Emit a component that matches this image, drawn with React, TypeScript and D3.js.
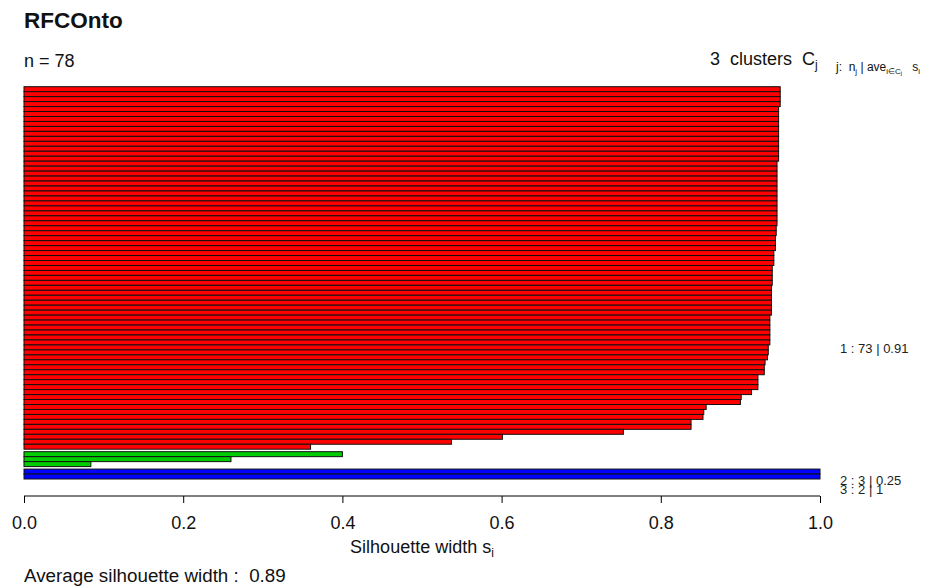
import React, { useEffect, useRef } from "react";
import * as d3 from "d3";

// silhouette widths, one entry per observation, sorted within each cluster
const cluster1 = [
  0.95, 0.95, 0.95, 0.95,
  0.948, 0.948, 0.948, 0.948, 0.948, 0.948, 0.948, 0.948, 0.948, 0.948, 0.948,
  0.946, 0.946, 0.946, 0.946, 0.946, 0.946, 0.946, 0.946, 0.946, 0.946, 0.946, 0.946, 0.946,
  0.945, 0.945,
  0.944, 0.944, 0.944,
  0.942, 0.942, 0.942,
  0.94, 0.94, 0.94, 0.94,
  0.939, 0.939, 0.939, 0.939, 0.939, 0.939,
  0.937, 0.937, 0.937, 0.937, 0.937, 0.937,
  0.935, 0.935, 0.934, 0.931, 0.93, 0.93,
  0.922, 0.922, 0.922, 0.914, 0.901, 0.9,
  0.857, 0.854, 0.853, 0.838, 0.838,
  0.753, 0.601, 0.537, 0.36,
];
const cluster2 = [0.4, 0.26, 0.084];
const cluster3 = [1.0, 1.0];

const clusters = [cluster1, cluster2, cluster3];
const clusterColors = ["#ff0000", "#00cd00", "#0000ff"];
const clusterLabels = ["1 : 73 | 0.91", "2 : 3 | 0.25", "3 : 2 | 1"];
const labelY = [353, 485, 494];
const xTicks = [0, 0.2, 0.4, 0.6, 0.8, 1.0];

const W = 941;
const H = 586;
const GAP = 0.5; // R barplot space between clusters

export default function App() {
  const ref = useRef<SVGSVGElement>(null);

  useEffect(() => {
    document.body.style.margin = "0";
    if (!ref.current) return;
    const svg = d3.select(ref.current);
    svg.selectAll("*").remove();
    const font = "'Liberation Sans', Arial, sans-serif";

    const bars: { v: number; c: number; u: number }[] = [];
    let u = 0;
    clusters.forEach((cl, c) => {
      if (c > 0) u += GAP;
      cl.forEach(v => {
        bars.push({ v, c, u });
        u += 1;
      });
    });
    const total = u;

    const x = d3.scaleLinear().domain([0, 1]).range([24, 820]);
    const y = d3.scaleLinear().domain([0, total]).range([86.7, 479]);

    svg.append("g")
      .selectAll("rect")
      .data(bars)
      .enter()
      .append("rect")
      .attr("x", x(0))
      .attr("y", d => y(d.u))
      .attr("width", d => x(d.v) - x(0))
      .attr("height", y(1) - y(0))
      .attr("fill", d => clusterColors[d.c])
      .attr("stroke", "#111")
      .attr("stroke-width", 1);

    // cluster labels on the right
    clusterLabels.forEach((lab, c) => {
      svg.append("text")
        .attr("x", 840)
        .attr("y", labelY[c])
        .attr("font-family", font)
        .attr("font-size", 13)
        .attr("fill", "#222")
        .text(lab);
    });

    // x axis
    const axis = svg.append("g")
      .attr("transform", "translate(0,496)")
      .call(d3.axisBottom(x).tickValues(xTicks).tickSize(7).tickPadding(13).tickFormat(d3.format(".1f")));
    axis.select(".domain").attr("stroke", "#000").attr("d", `M${x(0)},0H${x(1)}`);
    axis.selectAll(".tick line").attr("stroke", "#000");
    axis.selectAll("text")
      .attr("font-family", font)
      .attr("font-size", 18)
      .attr("fill", "#111");

    // x label with subscript
    const xl = svg.append("text")
      .attr("x", x(0.5))
      .attr("y", 553)
      .attr("text-anchor", "middle")
      .attr("font-family", font)
      .attr("font-size", 18)
      .attr("fill", "#111");
    xl.append("tspan").text("Silhouette width s");
    xl.append("tspan").attr("font-size", 12).attr("dy", 4).text("i");

    svg.append("text")
      .attr("x", 24)
      .attr("y", 582)
      .attr("font-family", font)
      .attr("font-size", 18.8)
      .attr("fill", "#111")
      .attr("xml:space", "preserve")
      .text("Average silhouette width :  0.89");

    // title and headers
    svg.append("text")
      .attr("x", 24)
      .attr("y", 28)
      .attr("font-family", font)
      .attr("font-weight", "bold")
      .attr("font-size", 22.5)
      .attr("fill", "#111")
      .text("RFCOnto");

    svg.append("text")
      .attr("x", 24)
      .attr("y", 67)
      .attr("font-family", font)
      .attr("font-size", 18)
      .attr("fill", "#111")
      .text("n = 78");

    const hc = svg.append("text")
      .attr("x", 710)
      .attr("y", 65)
      .attr("font-family", font)
      .attr("font-size", 18)
      .attr("fill", "#111")
      .attr("xml:space", "preserve");
    hc.append("tspan").text("3  clusters  C");
    hc.append("tspan").attr("font-size", 12).attr("dy", 4).text("j");

    const hs = svg.append("text")
      .attr("x", 836)
      .attr("y", 71)
      .attr("font-family", font)
      .attr("font-size", 12)
      .attr("fill", "#111")
      .attr("xml:space", "preserve");
    hs.append("tspan").text("j:  n");
    hs.append("tspan").attr("font-size", 8).attr("dy", 3).text("j");
    hs.append("tspan").attr("dy", -3).text(" | ave");
    hs.append("tspan").attr("font-size", 8).attr("dy", 3).text("i\u2208C");
    hs.append("tspan").attr("font-size", 6).attr("dy", 1).text("j");
    hs.append("tspan").attr("dy", -4).text("   s");
    hs.append("tspan").attr("font-size", 8).attr("dy", 3).text("i");
  }, []);

  return <svg ref={ref} width={W} height={H} style={{ display: "block", background: "#fff" }} />;
}
